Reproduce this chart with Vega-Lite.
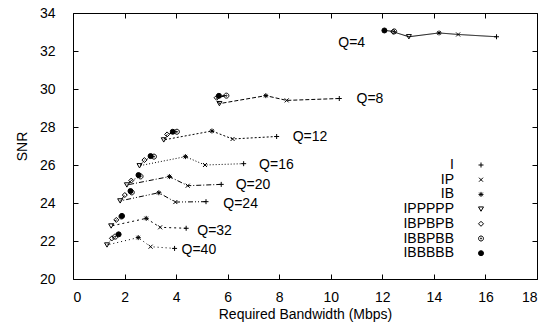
{
  "$schema": "https://vega.github.io/schema/vega-lite/v6.json",
  "width": 464,
  "height": 266,
  "autosize": {"type": "none"},
  "padding": {"left": 73, "top": 13, "right": 13, "bottom": 48},
  "background": "white",
  "config": {
    "view": {"stroke": "black", "strokeWidth": 1},
    "font": "Liberation Sans",
    "axis": {
      "grid": false,
      "domain": false,
      "tickColor": "black",
      "tickSize": -5,
      "tickWidth": 1,
      "labelFontSize": 14,
      "labelColor": "black",
      "labelFont": "Liberation Sans",
      "titleFont": "Liberation Sans",
      "titleFontSize": 14,
      "titleFontWeight": "normal",
      "titleColor": "black"
    }
  },
  "datasets": {
    "pts": [
      {"q": "Q=4", "gop": "I", "ord": 1, "bw": 16.43, "snr": 32.75},
      {"q": "Q=4", "gop": "IP", "ord": 2, "bw": 14.94, "snr": 32.87},
      {"q": "Q=4", "gop": "IB", "ord": 3, "bw": 14.2, "snr": 32.95},
      {"q": "Q=4", "gop": "IPPPPP", "ord": 4, "bw": 13.03, "snr": 32.75},
      {"q": "Q=4", "gop": "IBPBPB", "ord": 5, "bw": 12.42, "snr": 33.01},
      {"q": "Q=4", "gop": "IBBPBB", "ord": 6, "bw": 12.46, "snr": 33.03},
      {"q": "Q=4", "gop": "IBBBBB", "ord": 7, "bw": 12.08, "snr": 33.08},
      {"q": "Q=8", "gop": "I", "ord": 1, "bw": 10.33, "snr": 29.5},
      {"q": "Q=8", "gop": "IP", "ord": 2, "bw": 8.29, "snr": 29.4},
      {"q": "Q=8", "gop": "IB", "ord": 3, "bw": 7.48, "snr": 29.65},
      {"q": "Q=8", "gop": "IPPPPP", "ord": 4, "bw": 5.68, "snr": 29.23},
      {"q": "Q=8", "gop": "IBPBPB", "ord": 5, "bw": 5.57, "snr": 29.54},
      {"q": "Q=8", "gop": "IBBPBB", "ord": 6, "bw": 5.95, "snr": 29.65},
      {"q": "Q=8", "gop": "IBBBBB", "ord": 7, "bw": 5.66, "snr": 29.64},
      {"q": "Q=12", "gop": "I", "ord": 1, "bw": 7.9, "snr": 27.5},
      {"q": "Q=12", "gop": "IP", "ord": 2, "bw": 6.19, "snr": 27.37},
      {"q": "Q=12", "gop": "IB", "ord": 3, "bw": 5.39, "snr": 27.79},
      {"q": "Q=12", "gop": "IPPPPP", "ord": 4, "bw": 3.52, "snr": 27.32},
      {"q": "Q=12", "gop": "IBPBPB", "ord": 5, "bw": 3.65, "snr": 27.61},
      {"q": "Q=12", "gop": "IBBPBB", "ord": 6, "bw": 4.03, "snr": 27.75},
      {"q": "Q=12", "gop": "IBBBBB", "ord": 7, "bw": 3.87, "snr": 27.75},
      {"q": "Q=16", "gop": "I", "ord": 1, "bw": 6.62, "snr": 26.07},
      {"q": "Q=16", "gop": "IP", "ord": 2, "bw": 5.12, "snr": 26.0},
      {"q": "Q=16", "gop": "IB", "ord": 3, "bw": 4.36, "snr": 26.44},
      {"q": "Q=16", "gop": "IPPPPP", "ord": 4, "bw": 2.58, "snr": 25.96},
      {"q": "Q=16", "gop": "IBPBPB", "ord": 5, "bw": 2.77, "snr": 26.26},
      {"q": "Q=16", "gop": "IBBPBB", "ord": 6, "bw": 3.14, "snr": 26.44},
      {"q": "Q=16", "gop": "IBBBBB", "ord": 7, "bw": 3.01, "snr": 26.47},
      {"q": "Q=20", "gop": "I", "ord": 1, "bw": 5.75, "snr": 24.98},
      {"q": "Q=20", "gop": "IP", "ord": 2, "bw": 4.45, "snr": 24.91},
      {"q": "Q=20", "gop": "IB", "ord": 3, "bw": 3.74, "snr": 25.39},
      {"q": "Q=20", "gop": "IPPPPP", "ord": 4, "bw": 2.09, "snr": 24.95},
      {"q": "Q=20", "gop": "IBPBPB", "ord": 5, "bw": 2.26, "snr": 25.18},
      {"q": "Q=20", "gop": "IBBPBB", "ord": 6, "bw": 2.62, "snr": 25.4},
      {"q": "Q=20", "gop": "IBBBBB", "ord": 7, "bw": 2.54, "snr": 25.47},
      {"q": "Q=24", "gop": "I", "ord": 1, "bw": 5.16, "snr": 24.07},
      {"q": "Q=24", "gop": "IP", "ord": 2, "bw": 3.97, "snr": 24.05},
      {"q": "Q=24", "gop": "IB", "ord": 3, "bw": 3.33, "snr": 24.54},
      {"q": "Q=24", "gop": "IPPPPP", "ord": 4, "bw": 1.83, "snr": 24.11},
      {"q": "Q=24", "gop": "IBPBPB", "ord": 5, "bw": 2.01, "snr": 24.42},
      {"q": "Q=24", "gop": "IBBPBB", "ord": 6, "bw": 2.28, "snr": 24.56},
      {"q": "Q=24", "gop": "IBBBBB", "ord": 7, "bw": 2.23, "snr": 24.63},
      {"q": "Q=32", "gop": "I", "ord": 1, "bw": 4.39, "snr": 22.67},
      {"q": "Q=32", "gop": "IP", "ord": 2, "bw": 3.38, "snr": 22.72},
      {"q": "Q=32", "gop": "IB", "ord": 3, "bw": 2.84, "snr": 23.19},
      {"q": "Q=32", "gop": "IPPPPP", "ord": 4, "bw": 1.48, "snr": 22.79},
      {"q": "Q=32", "gop": "IBPBPB", "ord": 5, "bw": 1.68, "snr": 23.11},
      {"q": "Q=32", "gop": "IBBPBB", "ord": 6, "bw": 1.88, "snr": 23.29},
      {"q": "Q=32", "gop": "IBBBBB", "ord": 7, "bw": 1.9, "snr": 23.32},
      {"q": "Q=40", "gop": "I", "ord": 1, "bw": 3.94, "snr": 21.61},
      {"q": "Q=40", "gop": "IP", "ord": 2, "bw": 3.01, "snr": 21.7},
      {"q": "Q=40", "gop": "IB", "ord": 3, "bw": 2.53, "snr": 22.18},
      {"q": "Q=40", "gop": "IPPPPP", "ord": 4, "bw": 1.32, "snr": 21.79},
      {"q": "Q=40", "gop": "IBPBPB", "ord": 5, "bw": 1.51, "snr": 22.14},
      {"q": "Q=40", "gop": "IBBPBB", "ord": 6, "bw": 1.64, "snr": 22.23},
      {"q": "Q=40", "gop": "IBBBBB", "ord": 7, "bw": 1.77, "snr": 22.35}
    ],
    "labels": [
      {"label": "Q=4", "bw": 10.29, "snr": 32.42},
      {"label": "Q=8", "bw": 11.0, "snr": 29.49},
      {"label": "Q=12", "bw": 8.52, "snr": 27.5},
      {"label": "Q=16", "bw": 7.22, "snr": 26.02},
      {"label": "Q=20", "bw": 6.31, "snr": 24.96},
      {"label": "Q=24", "bw": 5.83, "snr": 23.97},
      {"label": "Q=32", "bw": 4.82, "snr": 22.54},
      {"label": "Q=40", "bw": 4.21, "snr": 21.54}
    ]
  },
  "layer": [
    {
      "data": {"name": "pts"},
      "mark": {"type": "line", "color": "black", "strokeWidth": 1},
      "encoding": {
        "x": {
          "field": "bw", "type": "quantitative",
          "scale": {"domain": [0, 18], "nice": false},
          "axis": {"orient": "bottom", "values": [0, 2, 4, 6, 8, 10, 12, 14, 16, 18], "title": "Required Bandwidth (Mbps)", "labelPadding": 16, "titlePadding": 3}
        },
        "y": {
          "field": "snr", "type": "quantitative",
          "scale": {"domain": [20, 34], "nice": false},
          "axis": {"orient": "left", "values": [20, 22, 24, 26, 28, 30, 32, 34], "title": "SNR", "labelPadding": 23, "titlePadding": 10}
        },
        "strokeDash": {
          "field": "q", "type": "nominal",
          "scale": {
            "domain": ["Q=4", "Q=8", "Q=12", "Q=16", "Q=20", "Q=24", "Q=32", "Q=40"],
            "range": [[1, 0], [4, 2], [2, 2], [1, 2], [5, 2, 1, 2], [5, 2, 1, 2, 1, 2], [2, 3], [1, 3]]
          },
          "legend": null
        },
        "order": {"field": "ord", "type": "quantitative"}
      }
    },
    {
      "data": {"name": "pts"},
      "mark": {"type": "point", "filled": false, "color": "black", "strokeWidth": 1, "size": 25, "opacity": 1},
      "encoding": {
        "x": {
          "field": "bw", "type": "quantitative",
          "axis": {"orient": "top", "values": [0, 2, 4, 6, 8, 10, 12, 14, 16, 18], "labels": false, "title": null}
        },
        "y": {
          "field": "snr", "type": "quantitative",
          "axis": {"orient": "right", "values": [20, 22, 24, 26, 28, 30, 32, 34], "labels": false, "title": null}
        },
        "shape": {
          "field": "gop", "type": "nominal",
          "scale": {
            "domain": ["I", "IP", "IB", "IPPPPP", "IBPBPB", "IBBPBB", "IBBBBB"],
            "range": [
              "M-1,0L1,0M0,-1L0,1",
              "M-0.8,-0.8L0.8,0.8M-0.8,0.8L0.8,-0.8",
              "M-1,0L1,0M0,-1L0,1M-0.7,-0.7L0.7,0.7M-0.7,0.7L0.7,-0.7",
              "triangle-down",
              "diamond",
              "M-1,0A1,1 0 1,0 1,0A1,1 0 1,0 -1,0M-0.25,0A0.25,0.25 0 1,0 0.25,0A0.25,0.25 0 1,0 -0.25,0",
              "circle"
            ]
          },
          "legend": {
            "orient": "none", "legendX": 401, "legendY": 145, "title": null,
            "labelAlign": "right", "labelOffset": -34, "symbolSize": 25,
            "symbolStrokeColor": "black", "symbolStrokeWidth": 1, "symbolFillColor": "transparent",
            "labelFontSize": 14, "labelFont": "Liberation Sans", "labelColor": "black",
            "rowPadding": 0.7, "padding": 0,
            "encode": {"symbols": {"update": {
              "stroke": {"value": "black"},
              "strokeWidth": {"value": 1},
              "opacity": {"value": 1},
              "fill": [{"test": "datum.value === 'IBBBBB'", "value": "black"}, {"value": "transparent"}]
            }}}
          }
        },
        "fill": {
          "field": "gop", "type": "nominal",
          "scale": {
            "domain": ["I", "IP", "IB", "IPPPPP", "IBPBPB", "IBBPBB", "IBBBBB"],
            "range": ["transparent", "transparent", "transparent", "transparent", "transparent", "transparent", "black"]
          },
          "legend": null
        }
      }
    },
    {
      "data": {"name": "labels"},
      "mark": {"type": "text", "align": "left", "baseline": "middle", "fontSize": 14, "font": "Liberation Sans", "color": "black"},
      "encoding": {
        "x": {"field": "bw", "type": "quantitative", "axis": null},
        "y": {"field": "snr", "type": "quantitative", "axis": null},
        "text": {"field": "label"}
      }
    }
  ],
  "resolve": {"axis": {"x": "independent", "y": "independent"}}
}
